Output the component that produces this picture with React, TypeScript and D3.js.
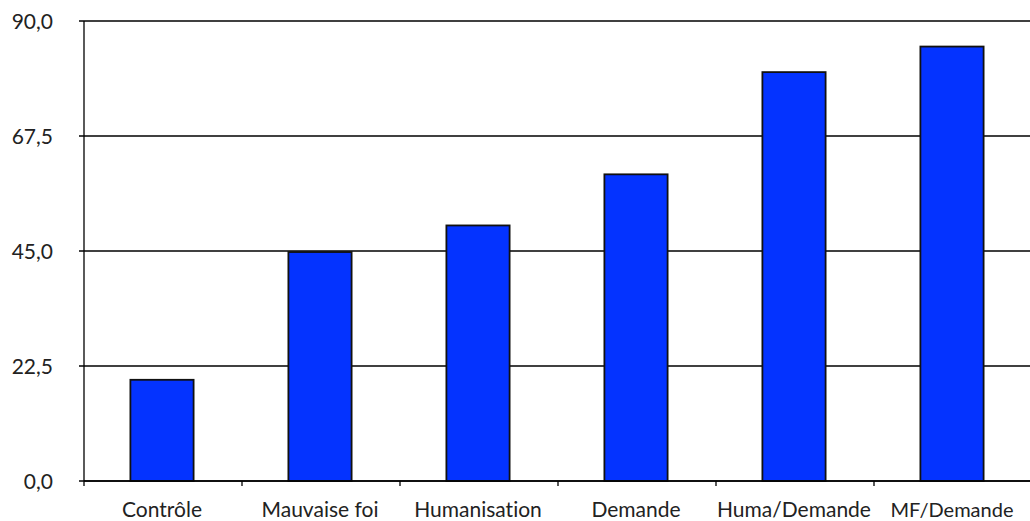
import React from "react";
import * as d3 from "d3";

const categories = ["Contrôle", "Mauvaise foi", "Humanisation", "Demande", "Huma/Demande", "MF/Demande"];
const values = [19.8, 44.8, 50.0, 60.0, 80.0, 85.0];
const yTicks = [0, 22.5, 45, 67.5, 90];

export default function App() {
  const W = 1030, H = 521;
  const left = 84, right = 1032, top = 21, bottom = 481;
  const x = d3.scaleBand<string>().domain(categories).range([left, right]).paddingInner(0.6).paddingOuter(0.3);
  const xb = d3.scaleBand<string>().domain(categories).range([left, right]);
  const y = d3.scaleLinear().domain([0, 90]).range([bottom, top]);
  const fmt = (v: number) => v.toFixed(1).replace(".", ",");
  const font = "Lato, 'DejaVu Sans', sans-serif";
  return (
    <svg width={W} height={H} style={{ position: "absolute", left: 0, top: 0, fontVariantLigatures: "none" }}>
      <rect width={W} height={H} fill="#fff" />
      {yTicks.map((t) => (
        <g key={t}>
          <line x1={left - 5} x2={right} y1={y(t)} y2={y(t)} stroke="#000" strokeWidth={1.3} />
          <text x={53} y={y(t) + 1} dy="0.35em" textAnchor="end" fontFamily={font} fontSize={21} fill="#222">
            {fmt(t)}
          </text>
        </g>
      ))}
      <line x1={left} x2={left} y1={top} y2={bottom} stroke="#000" strokeWidth={1.3} />
      {categories.map((c) => (
        <line key={"t" + c} x1={xb(c)!} x2={xb(c)!} y1={bottom} y2={bottom + 5} stroke="#000" strokeWidth={1.3} />
      ))}
      {categories.map((c, i) => (
        <rect
          key={"b" + c}
          x={x(c)! - 1}
          y={y(values[i])}
          width={x.bandwidth()}
          height={bottom - y(values[i])}
          fill="#0433FF"
          stroke="#111"
          strokeWidth={1.8}
        />
      ))}
      <line x1={left} x2={right} y1={bottom} y2={bottom} stroke="#000" strokeWidth={1.5} />
      {categories.map((c) => (
        <text
          key={"l" + c}
          x={xb(c)! + xb.bandwidth() / 2 - 1}
          y={517}
          textAnchor="middle"
          fontFamily={font}
          fontSize={c === "MF/Demande" ? 20 : 21}
          fill="#222"
        >
          {c}
        </text>
      ))}
    </svg>
  );
}
